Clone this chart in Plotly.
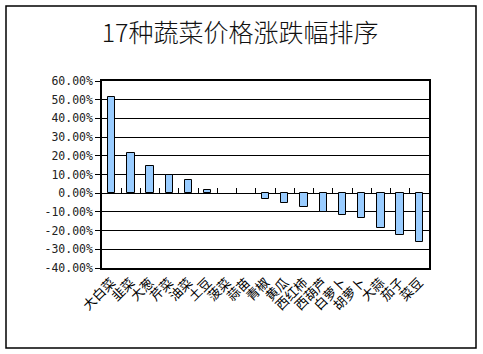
import plotly.graph_objects as go

categories = ["大白菜", "韭菜", "大葱", "芹菜", "油菜", "土豆", "菠菜", "蒜苗",
              "青椒", "黄瓜", "西红柿", "西葫芦", "白萝卜", "胡萝卜", "大蒜", "茄子", "菜豆"]
changes = [0.514, 0.216, 0.147, 0.096, 0.068, 0.019, None, None,
           -0.032, -0.053, -0.074, -0.098, -0.116, -0.132, -0.184, -0.221, -0.262]
y_ticks = [0.6, 0.5, 0.4, 0.3, 0.2, 0.1, 0.0, -0.1, -0.2, -0.3, -0.4]
y_tick_labels = ["60.00%", "50.00%", "40.00%", "30.00%", "20.00%", "10.00%", "0.00%",
                 "-10.00%", "-20.00%", "-30.00%", "-40.00%"]

W, H = 483, 354
ML, MR, MT, MB = 102, 54, 81, 86
pw, ph = W - ML - MR, H - MT - MB

n = len(categories)
idx = list(range(n))

fig = go.Figure()
fig.add_trace(go.Bar(
    x=idx, y=changes, width=0.38,
    marker=dict(color="#99CCFF", line=dict(color="black", width=1)),
    showlegend=False, hoverinfo="skip",
))
# invisible trace on the zero-line category-boundary axis
fig.add_trace(go.Scatter(x=[0, n - 1], y=[0, 0], xaxis="x2", mode="markers",
                         marker=dict(opacity=0), showlegend=False, hoverinfo="skip"))

fnt = "SimSun, 'Noto Sans CJK SC', sans-serif"
ymin, ymax = min(y_ticks), max(y_ticks)
fig.update_layout(
    width=W, height=H,
    margin=dict(l=ML, r=MR, t=MT, b=MB, autoexpand=False),
    paper_bgcolor="white", plot_bgcolor="white",
    title=dict(text="17种蔬菜价格涨跌幅排序", x=0.497, xref="container", xanchor="center",
               y=1 - 33 / H, yref="container", yanchor="middle",
               font=dict(family=fnt, size=25, color="#111", weight=300)),
    bargap=0,
    xaxis=dict(range=[-0.5, n - 0.5], tickvals=idx, ticktext=categories,
               tickangle=-45, ticks="", showgrid=False, zeroline=False,
               showline=True, linecolor="black", linewidth=1.5, mirror=True,
               tickfont=dict(family=fnt, size=13, color="black")),
    xaxis2=dict(overlaying="x", anchor="free", side="top",
                position=(0 - ymin) / (ymax - ymin),
                range=[-0.5, n - 0.5], tickvals=[i + 0.5 for i in idx[:-1]],
                showticklabels=False, ticks="outside", ticklen=5, tickcolor="black",
                tickwidth=1, showgrid=False, zeroline=False, showline=False),
    yaxis=dict(range=[ymin, ymax], tickvals=y_ticks, ticktext=y_tick_labels,
               showgrid=True, gridcolor="black", gridwidth=1,
               zeroline=True, zerolinecolor="black", zerolinewidth=1,
               showline=True, linecolor="black", linewidth=1.5, mirror=True,
               ticks="outside", ticklen=5, tickcolor="black",
               tickfont=dict(family="'DejaVu Sans Mono', monospace", size=11.5, color="#222")),
    shapes=[dict(type="rect", xref="paper", yref="paper",
                 x0=(6 - ML) / pw, x1=(476 - ML) / pw,
                 y0=(H - MB - 348) / ph, y1=(H - MB - 6) / ph,
                 line=dict(color="black", width=1.5), fillcolor="rgba(0,0,0,0)")],
)

fig.write_html("out.html")
